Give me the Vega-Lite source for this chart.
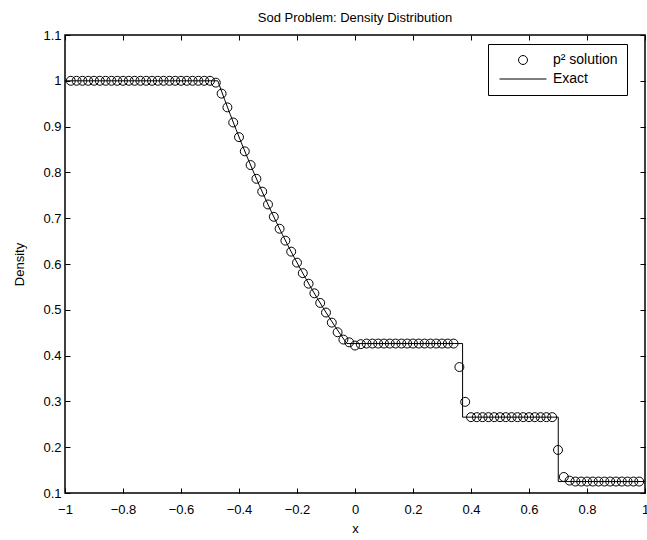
{
  "$schema": "https://vega.github.io/schema/vega-lite/v6.json",
  "width": 580,
  "height": 458,
  "autosize": {"type": "none"},
  "padding": {"left": 65, "top": 35, "right": 2, "bottom": 47},
  "background": "white",
  "title": {"text": "Sod Problem: Density Distribution", "font": "Liberation Sans", "fontSize": 13, "fontWeight": "normal", "color": "black", "anchor": "middle", "frame": "group", "offset": 4},
  "config": {
    "view": {"stroke": "black", "strokeWidth": 1.5},
    "axis": {"grid": false, "domain": false, "tickColor": "black", "tickSize": -5, "labelFont": "Liberation Sans", "labelFontSize": 13, "labelColor": "black", "titleFont": "Liberation Sans", "titleFontSize": 13, "titleFontWeight": "normal", "titleColor": "black", "labelFlush": false, "labelOverlap": false},
    "legend": {"labelFont": "Liberation Sans", "labelFontSize": 14, "labelColor": "black"}
  },
  "datasets": {
    "exact": [
      {"i": 0, "x": -1, "rho": 1},
      {"i": 1, "x": -0.4733, "rho": 1},
      {"i": 2, "x": -0.45, "rho": 0.9597},
      {"i": 3, "x": -0.43, "rho": 0.9261},
      {"i": 4, "x": -0.41, "rho": 0.8935},
      {"i": 5, "x": -0.39, "rho": 0.8617},
      {"i": 6, "x": -0.37, "rho": 0.8309},
      {"i": 7, "x": -0.35, "rho": 0.801},
      {"i": 8, "x": -0.33, "rho": 0.7719},
      {"i": 9, "x": -0.31, "rho": 0.7437},
      {"i": 10, "x": -0.29, "rho": 0.7163},
      {"i": 11, "x": -0.27, "rho": 0.6898},
      {"i": 12, "x": -0.25, "rho": 0.664},
      {"i": 13, "x": -0.23, "rho": 0.639},
      {"i": 14, "x": -0.21, "rho": 0.6148},
      {"i": 15, "x": -0.19, "rho": 0.5913},
      {"i": 16, "x": -0.17, "rho": 0.5685},
      {"i": 17, "x": -0.15, "rho": 0.5464},
      {"i": 18, "x": -0.13, "rho": 0.5251},
      {"i": 19, "x": -0.11, "rho": 0.5044},
      {"i": 20, "x": -0.09, "rho": 0.4843},
      {"i": 21, "x": -0.07, "rho": 0.4649},
      {"i": 22, "x": -0.05, "rho": 0.4461},
      {"i": 23, "x": -0.0281, "rho": 0.4263},
      {"i": 24, "x": 0.371, "rho": 0.4263},
      {"i": 25, "x": 0.371, "rho": 0.2656},
      {"i": 26, "x": 0.7009, "rho": 0.2656},
      {"i": 27, "x": 0.7009, "rho": 0.125},
      {"i": 28, "x": 1, "rho": 0.125}
    ],
    "num": [
      {"x": -0.98, "rho": 1, "series": "p² solution"},
      {"x": -0.96, "rho": 1, "series": "p² solution"},
      {"x": -0.94, "rho": 1, "series": "p² solution"},
      {"x": -0.92, "rho": 1, "series": "p² solution"},
      {"x": -0.9, "rho": 1, "series": "p² solution"},
      {"x": -0.88, "rho": 1, "series": "p² solution"},
      {"x": -0.86, "rho": 1, "series": "p² solution"},
      {"x": -0.84, "rho": 1, "series": "p² solution"},
      {"x": -0.82, "rho": 1, "series": "p² solution"},
      {"x": -0.8, "rho": 1, "series": "p² solution"},
      {"x": -0.78, "rho": 1, "series": "p² solution"},
      {"x": -0.76, "rho": 1, "series": "p² solution"},
      {"x": -0.74, "rho": 1, "series": "p² solution"},
      {"x": -0.72, "rho": 1, "series": "p² solution"},
      {"x": -0.7, "rho": 1, "series": "p² solution"},
      {"x": -0.68, "rho": 1, "series": "p² solution"},
      {"x": -0.66, "rho": 1, "series": "p² solution"},
      {"x": -0.64, "rho": 1, "series": "p² solution"},
      {"x": -0.62, "rho": 1, "series": "p² solution"},
      {"x": -0.6, "rho": 1, "series": "p² solution"},
      {"x": -0.58, "rho": 1, "series": "p² solution"},
      {"x": -0.56, "rho": 1, "series": "p² solution"},
      {"x": -0.54, "rho": 1, "series": "p² solution"},
      {"x": -0.52, "rho": 1, "series": "p² solution"},
      {"x": -0.5, "rho": 1, "series": "p² solution"},
      {"x": -0.48, "rho": 0.996, "series": "p² solution"},
      {"x": -0.46, "rho": 0.972, "series": "p² solution"},
      {"x": -0.44, "rho": 0.942, "series": "p² solution"},
      {"x": -0.42, "rho": 0.909, "series": "p² solution"},
      {"x": -0.4, "rho": 0.877, "series": "p² solution"},
      {"x": -0.38, "rho": 0.846, "series": "p² solution"},
      {"x": -0.36, "rho": 0.816, "series": "p² solution"},
      {"x": -0.34, "rho": 0.786, "series": "p² solution"},
      {"x": -0.32, "rho": 0.758, "series": "p² solution"},
      {"x": -0.3, "rho": 0.73, "series": "p² solution"},
      {"x": -0.28, "rho": 0.703, "series": "p² solution"},
      {"x": -0.26, "rho": 0.677, "series": "p² solution"},
      {"x": -0.24, "rho": 0.651, "series": "p² solution"},
      {"x": -0.22, "rho": 0.627, "series": "p² solution"},
      {"x": -0.2, "rho": 0.603, "series": "p² solution"},
      {"x": -0.18, "rho": 0.58, "series": "p² solution"},
      {"x": -0.16, "rho": 0.557, "series": "p² solution"},
      {"x": -0.14, "rho": 0.536, "series": "p² solution"},
      {"x": -0.12, "rho": 0.515, "series": "p² solution"},
      {"x": -0.1, "rho": 0.494, "series": "p² solution"},
      {"x": -0.08, "rho": 0.472, "series": "p² solution"},
      {"x": -0.06, "rho": 0.451, "series": "p² solution"},
      {"x": -0.04, "rho": 0.435, "series": "p² solution"},
      {"x": -0.02, "rho": 0.429, "series": "p² solution"},
      {"x": 0, "rho": 0.422, "series": "p² solution"},
      {"x": 0.02, "rho": 0.425, "series": "p² solution"},
      {"x": 0.04, "rho": 0.4263, "series": "p² solution"},
      {"x": 0.06, "rho": 0.4263, "series": "p² solution"},
      {"x": 0.08, "rho": 0.4263, "series": "p² solution"},
      {"x": 0.1, "rho": 0.4263, "series": "p² solution"},
      {"x": 0.12, "rho": 0.4263, "series": "p² solution"},
      {"x": 0.14, "rho": 0.4263, "series": "p² solution"},
      {"x": 0.16, "rho": 0.4263, "series": "p² solution"},
      {"x": 0.18, "rho": 0.4263, "series": "p² solution"},
      {"x": 0.2, "rho": 0.4263, "series": "p² solution"},
      {"x": 0.22, "rho": 0.4263, "series": "p² solution"},
      {"x": 0.24, "rho": 0.4263, "series": "p² solution"},
      {"x": 0.26, "rho": 0.4263, "series": "p² solution"},
      {"x": 0.28, "rho": 0.4263, "series": "p² solution"},
      {"x": 0.3, "rho": 0.4263, "series": "p² solution"},
      {"x": 0.32, "rho": 0.4263, "series": "p² solution"},
      {"x": 0.34, "rho": 0.4263, "series": "p² solution"},
      {"x": 0.36, "rho": 0.375, "series": "p² solution"},
      {"x": 0.38, "rho": 0.299, "series": "p² solution"},
      {"x": 0.4, "rho": 0.2656, "series": "p² solution"},
      {"x": 0.42, "rho": 0.2656, "series": "p² solution"},
      {"x": 0.44, "rho": 0.2656, "series": "p² solution"},
      {"x": 0.46, "rho": 0.2656, "series": "p² solution"},
      {"x": 0.48, "rho": 0.2656, "series": "p² solution"},
      {"x": 0.5, "rho": 0.2656, "series": "p² solution"},
      {"x": 0.52, "rho": 0.2656, "series": "p² solution"},
      {"x": 0.54, "rho": 0.2656, "series": "p² solution"},
      {"x": 0.56, "rho": 0.2656, "series": "p² solution"},
      {"x": 0.58, "rho": 0.2656, "series": "p² solution"},
      {"x": 0.6, "rho": 0.2656, "series": "p² solution"},
      {"x": 0.62, "rho": 0.2656, "series": "p² solution"},
      {"x": 0.64, "rho": 0.2656, "series": "p² solution"},
      {"x": 0.66, "rho": 0.2656, "series": "p² solution"},
      {"x": 0.68, "rho": 0.2656, "series": "p² solution"},
      {"x": 0.7, "rho": 0.194, "series": "p² solution"},
      {"x": 0.72, "rho": 0.135, "series": "p² solution"},
      {"x": 0.74, "rho": 0.127, "series": "p² solution"},
      {"x": 0.76, "rho": 0.125, "series": "p² solution"},
      {"x": 0.78, "rho": 0.125, "series": "p² solution"},
      {"x": 0.8, "rho": 0.125, "series": "p² solution"},
      {"x": 0.82, "rho": 0.125, "series": "p² solution"},
      {"x": 0.84, "rho": 0.125, "series": "p² solution"},
      {"x": 0.86, "rho": 0.125, "series": "p² solution"},
      {"x": 0.88, "rho": 0.125, "series": "p² solution"},
      {"x": 0.9, "rho": 0.125, "series": "p² solution"},
      {"x": 0.92, "rho": 0.125, "series": "p² solution"},
      {"x": 0.94, "rho": 0.125, "series": "p² solution"},
      {"x": 0.96, "rho": 0.125, "series": "p² solution"},
      {"x": 0.98, "rho": 0.125, "series": "p² solution"}
    ]
  },
  "layer": [
    {
      "data": {"name": "exact"},
      "mark": {"type": "line", "color": "black", "strokeWidth": 1},
      "encoding": {
        "x": {"field": "x", "type": "quantitative", "scale": {"domain": [-1, 1], "nice": false, "zero": false},
              "axis": {"orient": "bottom", "title": "x", "values": [-1, -0.8, -0.6, -0.4, -0.2, 0, 0.2, 0.4, 0.6, 0.8, 1], "format": "~g", "labelPadding": 15, "titlePadding": 6}},
        "y": {"field": "rho", "type": "quantitative", "scale": {"domain": [0.1, 1.1], "nice": false, "zero": false},
              "axis": {"orient": "left", "title": "Density", "values": [0.1, 0.2, 0.3, 0.4, 0.5, 0.6, 0.7, 0.8, 0.9, 1, 1.1], "format": "~g", "labelPadding": 9, "titlePadding": 16}},
        "order": {"field": "i", "type": "quantitative"}
      }
    },
    {
      "data": {"name": "num"},
      "mark": {"type": "point", "filled": false, "color": "black", "strokeWidth": 1, "opacity": 1, "size": 80},
      "encoding": {
        "x": {"field": "x", "type": "quantitative",
              "axis": {"orient": "top", "title": null, "labels": false, "values": [-1, -0.8, -0.6, -0.4, -0.2, 0, 0.2, 0.4, 0.6, 0.8, 1]}},
        "y": {"field": "rho", "type": "quantitative",
              "axis": {"orient": "right", "title": null, "labels": false, "values": [0.1, 0.2, 0.3, 0.4, 0.5, 0.6, 0.7, 0.8, 0.9, 1, 1.1]}},
        "shape": {"field": "series", "type": "nominal", "scale": {"domain": ["p² solution", "Exact"], "range": ["circle", "M-5.25,0L5.25,0"]},
                  "legend": {"title": null, "orient": "none", "legendX": 423, "legendY": 9, "strokeColor": "black", "fillColor": "white", "padding": 9, "rowPadding": 5, "symbolOffset": 19, "labelOffset": 23, "symbolSize": 80, "symbolStrokeWidth": 1, "symbolStrokeColor": "black", "symbolFillColor": "transparent"}}
      }
    }
  ],
  "resolve": {"axis": {"x": "independent", "y": "independent"}}
}
